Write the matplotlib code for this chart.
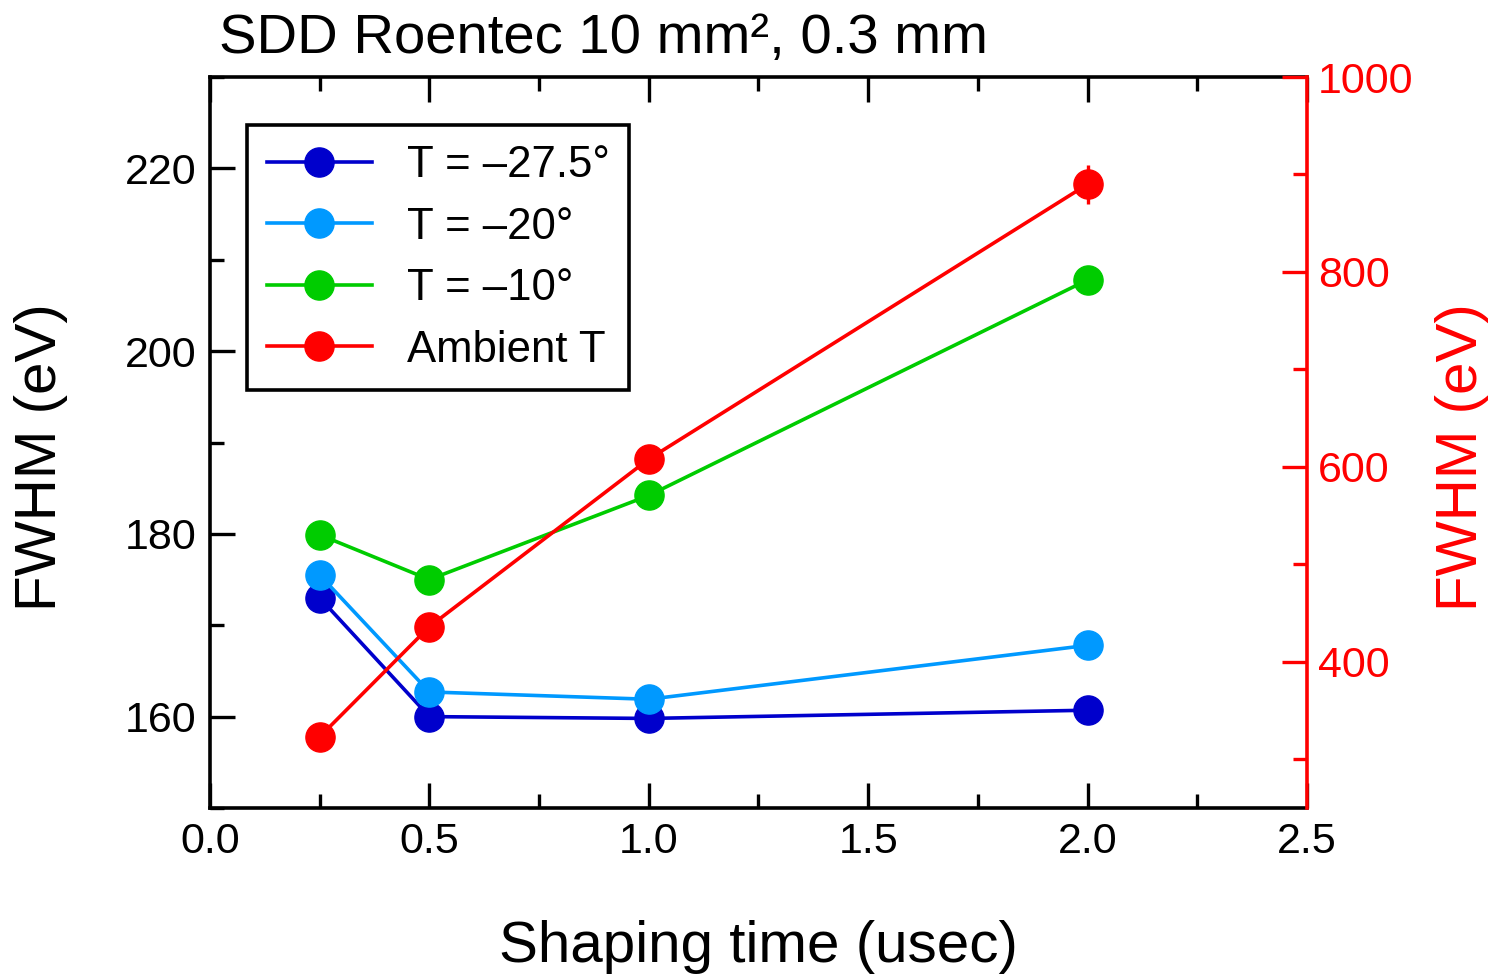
import numpy as np
import matplotlib.pyplot as plt

plt.rcParams['font.family'] = ['Liberation Sans', 'DejaVu Sans']

shaping = [0.25, 0.5, 1.0, 2.0]
fwhm_m275 = [173.0, 160.0, 159.8, 160.7]
fwhm_m20 = [175.5, 162.7, 161.9, 167.8]
fwhm_m10 = [179.9, 175.0, 184.2, 207.8]
fwhm_ambient = [323, 436, 608, 890]
err_ambient = [0, 0, 0, 20]

labels = ['T = \u201327.5\u00b0', 'T = \u201320\u00b0', 'T = \u201310\u00b0', 'Ambient T']
colors = ['#0000CC', '#0099FF', '#00CC00', '#FF0000']

fig = plt.figure(figsize=(14.9, 9.75), dpi=100)
ax = fig.add_axes([0.1409, 0.1713, 0.7363, 0.7497])
ax2 = ax.twinx()

lw = 2.6
ms = 21
h1, = ax.plot(shaping, fwhm_m275, '-o', color=colors[0], lw=lw, ms=ms, label=labels[0])
h2, = ax.plot(shaping, fwhm_m20, '-o', color=colors[1], lw=lw, ms=ms, label=labels[1])
h3, = ax.plot(shaping, fwhm_m10, '-o', color=colors[2], lw=lw, ms=ms, label=labels[2])
h4, = ax2.plot(shaping, fwhm_ambient, '-o', color=colors[3], lw=lw, ms=ms, label=labels[3])
ax2.errorbar(shaping, fwhm_ambient, yerr=err_ambient, fmt='none', ecolor=colors[3],
             elinewidth=2.4, capsize=0)

ax.set_xlim(0, 2.5)
ax.set_ylim(150, 230)
ax2.set_ylim(250, 1000)

ax.set_xticks([0, 0.5, 1.0, 1.5, 2.0, 2.5])
ax.set_xticklabels(['0.0', '0.5', '1.0', '1.5', '2.0', '2.5'])
ax.set_xticks(np.arange(0.25, 2.5, 0.5), minor=True)
ax.set_yticks([160, 180, 200, 220])
ax.set_yticks([150, 170, 190, 210, 230], minor=True)
ax2.set_yticks([400, 600, 800, 1000])
ax2.set_yticks([300, 500, 700, 900], minor=True)

ax.tick_params(which='both', direction='in', top=True, right=False, width=2.4,
               labelsize=31, pad=10)
ax.tick_params(which='major', length=18)
ax.tick_params(which='minor', length=10)
ax2.tick_params(which='both', direction='in', colors='red', width=2.4,
                labelsize=31, pad=8)
ax2.tick_params(which='major', length=18)
ax2.tick_params(which='minor', length=10)

for s in ['left', 'bottom', 'top']:
    ax.spines[s].set_linewidth(2.6)
for s in ['left', 'bottom', 'top']:
    ax2.spines[s].set_visible(False)
ax2.spines['right'].set_color('red')
ax2.spines['right'].set_linewidth(2.6)
ax.spines['right'].set_visible(False)

ax.set_xlabel('Shaping time (usec)', fontsize=42, labelpad=42)
ax.set_ylabel('FWHM (eV)', fontsize=42)
ax2.set_ylabel('FWHM (eV)', fontsize=42, color='red')
ax.yaxis.set_label_coords(-0.129, 0.48)
ax2.yaxis.set_label_coords(1.117, 0.48)

fig.text(0.147, 0.960, 'SDD Roentec 10 mm\u00b2, 0.3 mm', fontsize=40.5, ha='left', va='center')

leg = ax.legend(handles=[h1, h2, h3, h4], loc='upper left', bbox_to_anchor=(0.0337, 0.934),
                borderaxespad=0, fontsize=31.5, frameon=True, fancybox=False,
                framealpha=1, edgecolor='black', handlelength=2.4, handletextpad=0.8,
                labelspacing=0.47, borderpad=0.45)
leg.get_frame().set_linewidth(2.6)

fig.savefig('out.png', dpi=100)
